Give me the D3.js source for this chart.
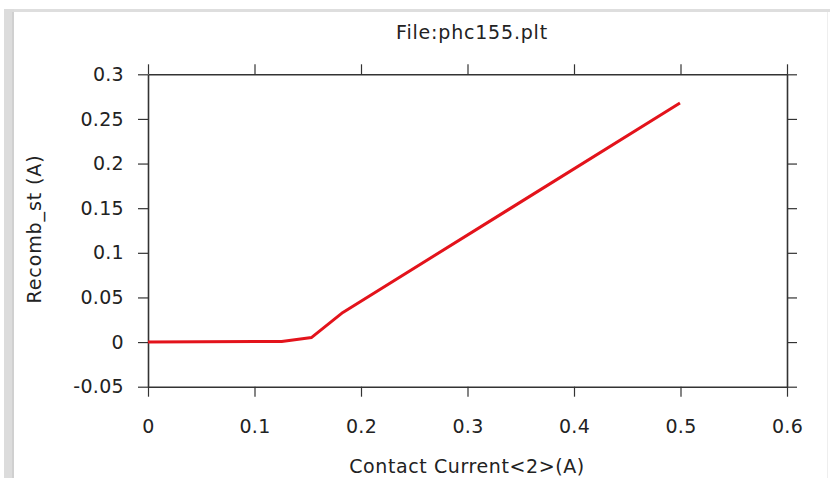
<!DOCTYPE html>
<html>
<head>
<meta charset="utf-8">
<script src="https://cdn.jsdelivr.net/npm/d3@7"></script>
<style>
  html, body { margin: 0; padding: 0; background: #fff; }
  svg { display: block; }
  text { font-family: "DejaVu Sans", sans-serif; fill: #222; }
</style>
</head>
<body>
<script>
// Curve samples: contact current (A) vs. recombination current (A)
const current = [0, 0.1255, 0.1537, 0.183, 0.4995];
const recomb  = [0, 0.0007, 0.0052, 0.0332, 0.2678];

const xTicks = [0, 0.1, 0.2, 0.3, 0.4, 0.5, 0.6];
const yTicks = [-0.05, 0, 0.05, 0.1, 0.15, 0.2, 0.25, 0.3];

const titleText = "File:phc155.plt";
const xLabel = "Contact Current<2>(A)";
const yLabel = "Recomb_st (A)";

const W = 830, H = 478;
const plot = { left: 148, right: 787, top: 74.3, bottom: 386.7 };
const fontSize = 19;

const svg = d3.select("body").append("svg").attr("width", W).attr("height", H);

// window frame
svg.append("rect").attr("x", 4).attr("y", 9).attr("width", W - 4).attr("height", 3).attr("fill", "#dedede");
svg.append("rect").attr("x", 4).attr("y", 9).attr("width", 10).attr("height", H - 9).attr("fill", "#dcdcdc");
svg.append("rect").attr("x", 12).attr("y", 12).attr("width", 2).attr("height", H - 12).attr("fill", "#d0d0d0");
svg.append("rect").attr("x", 827).attr("y", 12).attr("width", 1).attr("height", H - 12).attr("fill", "#eeeeee");

const x = d3.scaleLinear().domain([0, 0.6]).range([plot.left, plot.right]);
const y = d3.scaleLinear().domain([-0.05, 0.3]).range([plot.bottom, plot.top]);

const fmt = d => String(+d.toFixed(2));
const tick = 10;

function styleAxis(g) {
  g.select(".domain").attr("stroke", "#333").attr("stroke-width", 1.6);
  g.selectAll(".tick line").attr("stroke", "#333").attr("stroke-width", 1.2);
}
function styleLabels(g) {
  g.selectAll("text")
    .attr("font-size", fontSize)
    .attr("letter-spacing", 0.3)
    .style("font-family", "DejaVu Sans, sans-serif")
    .attr("fill", "#222");
}

// bottom axis with labels
svg.append("g").attr("transform", `translate(0,${plot.bottom})`)
  .call(d3.axisBottom(x).tickValues(xTicks).tickSize(tick).tickSizeOuter(0).tickPadding(23).tickFormat(fmt))
  .call(styleAxis)
  .call(styleLabels);

// top axis, ticks only
svg.append("g").attr("transform", `translate(0,${plot.top})`)
  .call(d3.axisTop(x).tickValues(xTicks).tickSize(tick).tickSizeOuter(0).tickFormat(""))
  .call(styleAxis);

// left axis with labels
svg.append("g").attr("transform", `translate(${plot.left},0)`)
  .call(d3.axisLeft(y).tickValues(yTicks).tickSize(tick).tickSizeOuter(0).tickPadding(14).tickFormat(fmt))
  .call(styleAxis)
  .call(styleLabels);

// right axis, ticks only
svg.append("g").attr("transform", `translate(${plot.right},0)`)
  .call(d3.axisRight(y).tickValues(yTicks).tickSize(tick).tickSizeOuter(0).tickFormat(""))
  .call(styleAxis);

// data line
const pts = current.map((c, i) => [c, recomb[i]]);
svg.append("path")
  .datum(pts)
  .attr("fill", "none")
  .attr("stroke", "#e3131b")
  .attr("stroke-width", 3)
  .attr("stroke-linejoin", "round")
  .attr("d", d3.line().x(d => x(d[0])).y(d => y(d[1])));

// title and axis labels
svg.append("text").attr("x", 472).attr("y", 39).attr("text-anchor", "middle")
  .attr("font-size", fontSize).attr("letter-spacing", 0.8).text(titleText);
svg.append("text").attr("x", 467).attr("y", 473).attr("text-anchor", "middle")
  .attr("font-size", fontSize).attr("letter-spacing", 0.6).text(xLabel);
svg.append("text").attr("transform", `translate(41,229) rotate(-90)`).attr("text-anchor", "middle")
  .attr("font-size", fontSize).attr("letter-spacing", 0.9).text(yLabel);
</script>
</body>
</html>
